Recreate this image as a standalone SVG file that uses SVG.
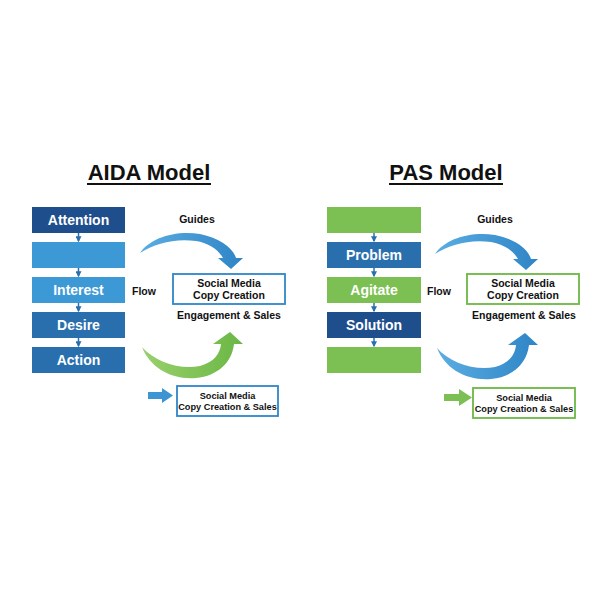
<svg xmlns="http://www.w3.org/2000/svg" width="600" height="600" viewBox="0 0 600 600">
<defs>
<style>
text{font-family:"Liberation Sans",Arial,sans-serif;font-weight:bold}
.title{font-size:22px;fill:#111}
.bt{font-size:14px;fill:#fff}
.lbl{font-size:10.5px;fill:#111}
.sm{font-size:9.2px;fill:#111}
.navy{fill:#1f4e8c}
.mid{fill:#2a6fad}
.light{fill:#3d98d6}
.green{fill:#7cbf52}
.bbox{fill:#fff;stroke:#2f86c8;stroke-width:1.8}
.gbox{fill:#fff;stroke:#6bb844;stroke-width:1.8}
.conn{stroke:#2a6fad;stroke-width:1.5;fill:none}
</style>
<marker id="ah" viewBox="0 0 10 10" refX="8" refY="5" markerWidth="4" markerHeight="4" orient="auto">
<path d="M0,0 L10,5 L0,10 Z" fill="#2a6fad"/>
</marker>
<linearGradient id="gb" x1="0" y1="0" x2="1" y2="0">
<stop offset="0" stop-color="#5aaee2"/>
<stop offset="1" stop-color="#2f84c6"/>
</linearGradient>
<linearGradient id="gg" x1="0" y1="0" x2="1" y2="0">
<stop offset="0" stop-color="#9ad06e"/>
<stop offset="1" stop-color="#6ab744"/>
</linearGradient>
<path id="topArc" d="M140,253 C150,238 175,230 200,234 C220,238 233,248 236,258 L243,258 L231,269 L218,258 L223,258 C218,249 208,243 196,241 C176,238 155,243 140,253 Z"/>
<path id="botArc" d="M142,347 C155,362 180,370 200,366 C214,362 220,354 221,344 L213,344 L230,332 L243,344 L234,344 C232,362 218,376 196,378 C172,380 150,368 142,347 Z"/>
</defs>
<rect width="600" height="600" fill="#fff"/>

<!-- AIDA -->
<g id="aida-title">
<text class="title" x="149" y="180" text-anchor="middle">AIDA Model</text>
<line x1="87" y1="184" x2="211" y2="184" stroke="#111" stroke-width="2"/>
</g>
<g id="aida-attention"><rect class="navy" x="32" y="207" width="93" height="26"/><text class="bt" x="78.5" y="225" text-anchor="middle">Attention</text></g>
<g id="aida-blank"><rect class="light" x="32" y="242" width="93" height="26"/></g>
<g id="aida-interest"><rect class="light" x="32" y="277" width="93" height="26"/><text class="bt" x="78.5" y="295" text-anchor="middle">Interest</text></g>
<g id="aida-desire"><rect class="mid" x="32" y="312" width="93" height="26"/><text class="bt" x="78.5" y="330" text-anchor="middle">Desire</text></g>
<g id="aida-action"><rect class="mid" x="32" y="347" width="93" height="26"/><text class="bt" x="78.5" y="365" text-anchor="middle">Action</text></g>
<g id="aida-social"><rect class="bbox" x="173" y="274" width="112" height="30"/><text class="lbl" x="229" y="287" text-anchor="middle">Social Media</text><text class="lbl" x="229" y="299" text-anchor="middle">Copy Creation</text></g>
<g id="aida-bottom"><rect class="bbox" x="177" y="386" width="101" height="30"/><text class="sm" x="227.5" y="399" text-anchor="middle">Social Media</text><text class="sm" x="227.5" y="410" text-anchor="middle">Copy Creation &amp; Sales</text></g>
<g id="aida-labels">
<text class="lbl" x="197" y="223" text-anchor="middle">Guides</text>
<text class="lbl" x="132" y="295" font-size="11">Flow</text>
<text class="lbl" x="229" y="319" text-anchor="middle">Engagement &amp; Sales</text>
</g>

<!-- PAS -->
<g id="pas-title">
<text class="title" x="446" y="180" text-anchor="middle">PAS Model</text>
<line x1="389" y1="184" x2="503" y2="184" stroke="#111" stroke-width="2"/>
</g>
<g id="pas-top"><rect class="green" x="327" y="207" width="94" height="26"/></g>
<g id="pas-problem"><rect class="mid" x="327" y="242" width="94" height="26"/><text class="bt" x="374" y="260" text-anchor="middle">Problem</text></g>
<g id="pas-agitate"><rect class="green" x="327" y="277" width="94" height="26"/><text class="bt" x="374" y="295" text-anchor="middle">Agitate</text></g>
<g id="pas-solution"><rect class="navy" x="327" y="312" width="94" height="26"/><text class="bt" x="374" y="330" text-anchor="middle">Solution</text></g>
<g id="pas-last"><rect class="green" x="327" y="347" width="94" height="26"/></g>
<g id="pas-social"><rect class="gbox" x="467" y="274" width="112" height="30"/><text class="lbl" x="523" y="287" text-anchor="middle">Social Media</text><text class="lbl" x="523" y="299" text-anchor="middle">Copy Creation</text></g>
<g id="pas-bottom"><rect class="gbox" x="473" y="388" width="102" height="30"/><text class="sm" x="524" y="401" text-anchor="middle">Social Media</text><text class="sm" x="524" y="412" text-anchor="middle">Copy Creation &amp; Sales</text></g>
<g id="pas-labels">
<text class="lbl" x="495" y="223" text-anchor="middle">Guides</text>
<text class="lbl" x="427" y="295" font-size="11">Flow</text>
<text class="lbl" x="524" y="319" text-anchor="middle">Engagement &amp; Sales</text>
</g>

<!-- connectors -->
<g id="connectors">
<line class="conn" x1="78.5" y1="233" x2="78.5" y2="241" marker-end="url(#ah)"/>
<line class="conn" x1="78.5" y1="268" x2="78.5" y2="276" marker-end="url(#ah)"/>
<line class="conn" x1="78.5" y1="303" x2="78.5" y2="311" marker-end="url(#ah)"/>
<line class="conn" x1="78.5" y1="338" x2="78.5" y2="346" marker-end="url(#ah)"/>
<line class="conn" x1="374" y1="233" x2="374" y2="241" marker-end="url(#ah)"/>
<line class="conn" x1="374" y1="268" x2="374" y2="276" marker-end="url(#ah)"/>
<line class="conn" x1="374" y1="303" x2="374" y2="311" marker-end="url(#ah)"/>
<line class="conn" x1="374" y1="338" x2="374" y2="346" marker-end="url(#ah)"/>
<use href="#topArc" fill="url(#gb)"/>
<use href="#botArc" fill="url(#gg)"/>
<use href="#topArc" fill="url(#gb)" transform="translate(295,1)"/>
<use href="#botArc" fill="url(#gb)" transform="translate(295,1)"/>
<path d="M148,392 L162,392 L162,388 L173,395.5 L162,403 L162,399 L148,399 Z" fill="#3d95d3"/>
<path d="M444,394 L459,394 L459,389 L472,397.5 L459,406 L459,401 L444,401 Z" fill="#7cbf52"/>
</g>
</svg>
